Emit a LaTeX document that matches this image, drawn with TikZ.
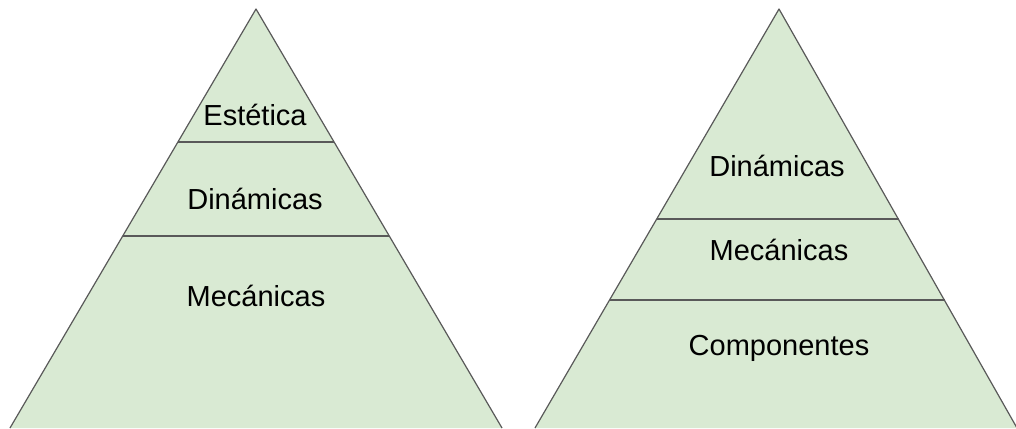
\documentclass[tikz,border=0pt]{standalone}
\usepackage{fontspec}
\setmainfont{Liberation Sans}
\definecolor{pyrfill}{HTML}{D9EAD3}
\definecolor{pyrline}{HTML}{595959}
\tikzset{
  tri/.style={fill=pyrfill, draw=none},
  edge/.style={draw=pyrline, line width=1.2pt, line join=round},
  lbl/.style={font=\fontsize{29}{32}\selectfont, text=black, inner sep=0pt}
}
\begin{document}
\begin{tikzpicture}[x=1pt,y=-1pt]
\useasboundingbox (0,0) rectangle (1016,428);
% left pyramid
\fill[tri] (256,9) -- (502,428) -- (10,428) -- cycle;
\draw[edge] (10,428) -- (256,9) -- (502,428);
\draw[edge] (178,142) -- (334,142);
\draw[edge] (123,236) -- (389,236);
\node[lbl] (le) at (255,115) {Estética};
\node[lbl] (ld) at (255,199) {Dinámicas};
\node[lbl] (lm) at (256,296) {Mecánicas};
% right pyramid
\fill[tri] (779,9) -- (1017,428) -- (535,428) -- cycle;
\draw[edge] (535,428) -- (779,9) -- (1017,428);
\draw[edge] (657,219) -- (898.5,219);
\draw[edge] (610,300) -- (944.5,300);
\node[lbl] (rd) at (777,166) {Dinámicas};
\node[lbl] (rm) at (779,250) {Mecánicas};
\node[lbl] (rc) at (779,348) {Componentes};
\end{tikzpicture}
\end{document}
